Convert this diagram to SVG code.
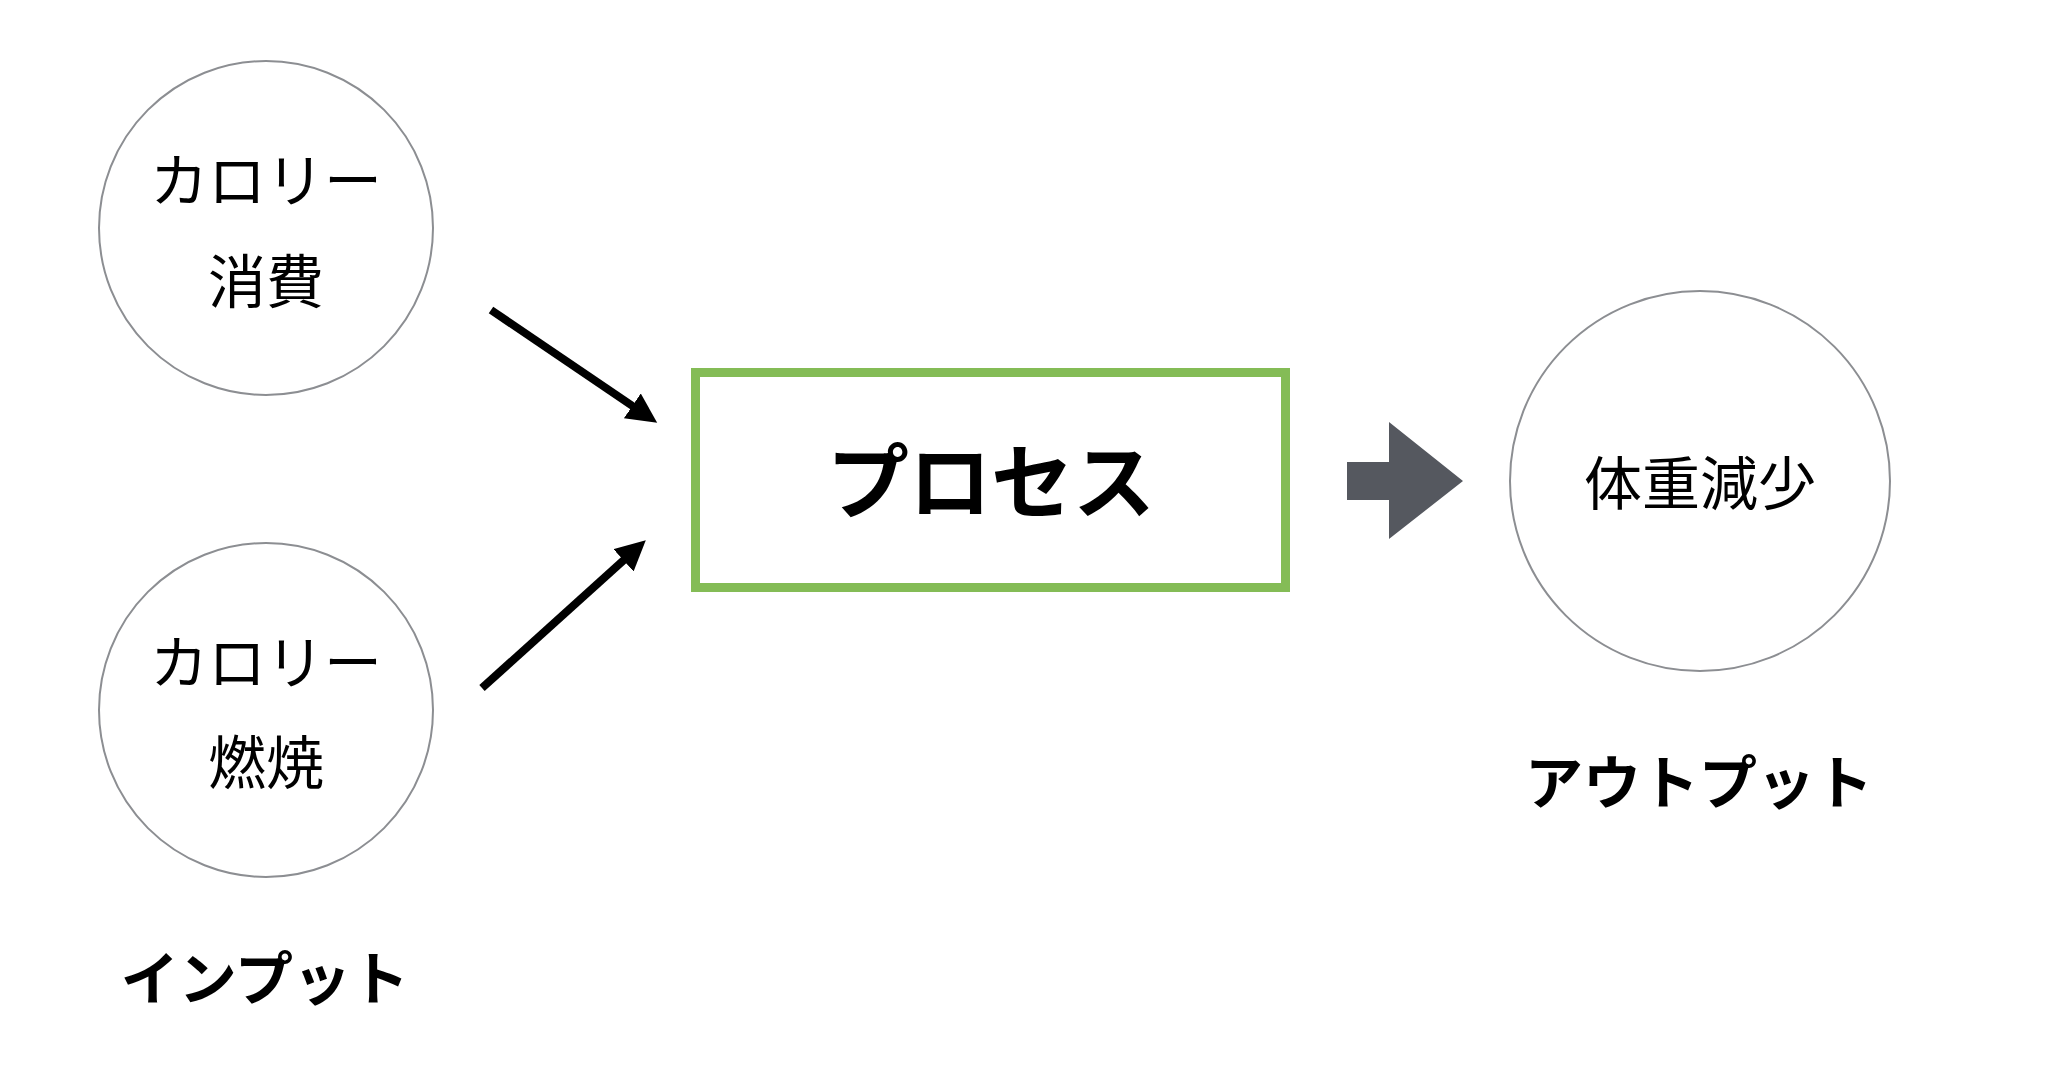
<svg xmlns="http://www.w3.org/2000/svg" width="2060" height="1066" viewBox="0 0 2060 1066">
  <defs>
    <style>
      .node circle { fill: #ffffff; stroke: #8c8e92; stroke-width: 2; }
      .t { font-family: "Noto Sans CJK JP", "Noto Sans", sans-serif; fill: #000000; text-anchor: middle; dominant-baseline: central; }
      .nt { font-size: 58px; font-weight: 400; }
      .lbl { font-size: 58px; font-weight: 700; }
      .conn line { stroke: #000000; stroke-width: 8; fill: none; }
    </style>
    <marker id="ah" markerUnits="userSpaceOnUse" markerWidth="32" markerHeight="32" refX="2" refY="15" orient="auto" viewBox="0 0 32 32">
      <path d="M0,0 L30,15 L0,30 Z" fill="#000000"/>
    </marker>
  </defs>
  <rect width="2060" height="1066" fill="#ffffff"/>

  <g id="node-consume" class="node">
    <circle cx="266" cy="228" r="167"/>
    <text class="t nt" x="266" y="177">カロリー</text>
    <text class="t nt" x="266" y="278">消費</text>
  </g>

  <g id="node-burn" class="node">
    <circle cx="266" cy="710" r="167"/>
    <text class="t nt" x="266" y="659">カロリー</text>
    <text class="t nt" x="266" y="759">燃焼</text>
  </g>

  <g id="node-process">
    <rect x="695.5" y="372.5" width="590" height="215" fill="#ffffff" stroke="#84bc56" stroke-width="9"/>
    <text class="t" x="991" y="476" style="font-size:82px;font-weight:700">プロセス</text>
  </g>

  <g id="node-output" class="node">
    <circle cx="1700" cy="481" r="190"/>
    <text class="t nt" x="1700" y="480">体重減少</text>
  </g>

  <g id="label-input">
    <text class="t lbl" x="265" y="975">インプット</text>
  </g>
  <g id="label-output">
    <text class="t lbl" x="1699" y="779">アウトプット</text>
  </g>

  <g id="connectors" class="conn">
    <line x1="491" y1="310" x2="634" y2="407" marker-end="url(#ah)"/>
    <line x1="482" y1="688" x2="625" y2="559" marker-end="url(#ah)"/>
    <polygon points="1347,462 1389,462 1389,422 1463,481 1389,539 1389,500 1347,500" fill="#55585f"/>
  </g>
</svg>
